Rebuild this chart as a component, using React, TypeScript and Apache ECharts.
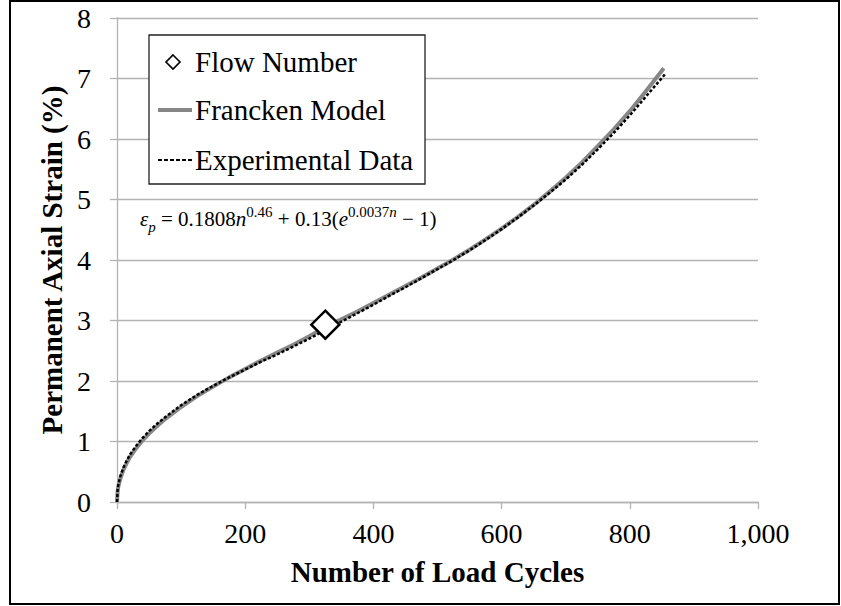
import React, { useEffect, useRef } from "react";
import * as echarts from "echarts";

// Load cycles (n) and permanent axial strain (%) for the fitted model curve
const modelCycles = [0, 1, 2, 5, 10, 15, 20, 30, 40, 50, 60, 75, 90, 100, 125, 150, 175, 200, 225, 250, 275, 300, 325, 350, 375, 400, 425, 450, 475, 500, 525, 550, 575, 600, 625, 650, 675, 700, 725, 750, 775, 800, 825, 853];
const modelStrain = [0, 0.18, 0.25, 0.38, 0.53, 0.64, 0.74, 0.89, 1.02, 1.13, 1.23, 1.37, 1.49, 1.57, 1.75, 1.91, 2.06, 2.2, 2.34, 2.47, 2.6, 2.74, 2.89, 3.02, 3.15, 3.29, 3.43, 3.57, 3.71, 3.86, 4.01, 4.17, 4.34, 4.52, 4.71, 4.91, 5.13, 5.36, 5.61, 5.88, 6.16, 6.46, 6.79, 7.17];

// Measured strain from the repeated load test
const expCycles = [0, 1, 2, 5, 10, 15, 20, 30, 40, 50, 60, 75, 90, 100, 125, 150, 175, 200, 225, 250, 275, 300, 325, 350, 375, 400, 425, 450, 475, 500, 525, 550, 575, 600, 625, 650, 675, 700, 725, 750, 775, 800, 825, 855];
const expStrain = [0, 0.2, 0.28, 0.42, 0.57, 0.68, 0.78, 0.93, 1.06, 1.17, 1.27, 1.4, 1.52, 1.6, 1.77, 1.92, 2.06, 2.19, 2.32, 2.44, 2.57, 2.7, 2.84, 2.98, 3.12, 3.26, 3.41, 3.55, 3.7, 3.85, 4.0, 4.16, 4.33, 4.51, 4.7, 4.9, 5.11, 5.33, 5.57, 5.83, 6.1, 6.39, 6.7, 7.07];

// Flow number point
const flowCycles = [325];
const flowStrain = [2.93];

const xTicks = [0, 200, 400, 600, 800, 1000];

const SERIF = "'Liberation Serif', 'Times New Roman', serif";

function pairs(xs: number[], ys: number[]) {
  return xs.map((x, i) => [x, ys[i]]);
}

export default function App() {
  const ref = useRef<HTMLDivElement>(null);

  useEffect(() => {
    if (!ref.current) return;
    const chart = echarts.init(ref.current, undefined, { renderer: "svg" });
    const gridColor = "#b3b3b3";

    chart.setOption({
      animation: false,
      backgroundColor: "#ffffff",
      grid: {
        left: 117,
        right: 83,
        top: 18,
        bottom: 104,
        containLabel: false,
        outerBoundsMode: "none",
      },
      xAxis: {
        type: "value",
        min: xTicks[0],
        max: xTicks[xTicks.length - 1],
        interval: 200,
        name: "Number of Load Cycles",
        nameLocation: "middle",
        nameGap: 55,
        nameTextStyle: { fontFamily: SERIF, fontSize: 29, fontWeight: "bold", color: "#000" },
        axisLine: { show: true, lineStyle: { color: gridColor, width: 1.3 } },
        axisTick: { show: true, inside: false, length: 7, lineStyle: { color: gridColor, width: 1.3 } },
        splitLine: { show: false },
        axisLabel: {
          margin: 17,
          fontFamily: SERIF,
          fontSize: 28,
          color: "#000",
          formatter: (v: number) => v.toLocaleString("en-US"),
        },
      },
      yAxis: {
        type: "value",
        min: 0,
        max: 8,
        interval: 1,
        name: "Permanent Axial Strain (%)",
        nameLocation: "middle",
        nameGap: 50,
        nameTextStyle: { fontFamily: SERIF, fontSize: 29, fontWeight: "bold", color: "#000" },
        axisLine: { show: true, lineStyle: { color: gridColor, width: 1.3 } },
        axisTick: { show: true, inside: false, length: 7, lineStyle: { color: gridColor, width: 1.3 } },
        splitLine: { show: true, lineStyle: { color: gridColor, width: 1.3 } },
        axisLabel: { margin: 26, fontFamily: SERIF, fontSize: 28, color: "#000" },
      },
      series: [
        {
          name: "Francken Model",
          type: "line",
          data: pairs(modelCycles, modelStrain),
          smooth: false,
          symbol: "none",
          lineStyle: { color: "#878787", width: 4, join: "round" },
          z: 2,
        },
        {
          name: "Experimental Data",
          type: "line",
          data: pairs(expCycles, expStrain),
          smooth: false,
          symbol: "none",
          lineStyle: { color: "#000", width: 2.5, type: [3, 2] },
          z: 3,
        },
        {
          name: "Flow Number",
          type: "scatter",
          data: pairs(flowCycles, flowStrain),
          symbol: "diamond",
          symbolSize: 28,
          itemStyle: { color: "#fff", borderColor: "#000", borderWidth: 2.5, opacity: 1 },
          z: 5,
        },
      ],
      graphic: [
        // outer frame
        {
          type: "rect",
          shape: { x: 10, y: 1, width: 829, height: 603 },
          style: { fill: "none", stroke: "#000", lineWidth: 2 },
          silent: true,
          z: 10,
        },
        // legend box
        {
          type: "rect",
          shape: { x: 149, y: 35, width: 276, height: 149 },
          style: { fill: "#fff", stroke: "#222", lineWidth: 1.3 },
          z: 20,
        },
        {
          type: "polygon",
          shape: { points: [[173, 55], [180, 62], [173, 69], [166, 62]] },
          style: { fill: "#fff", stroke: "#000", lineWidth: 1.6 },
          z: 21,
        },
        {
          type: "line",
          shape: { x1: 158, y1: 110, x2: 192, y2: 110 },
          style: { stroke: "#878787", lineWidth: 4 },
          z: 21,
        },
        {
          type: "line",
          shape: { x1: 158, y1: 160, x2: 193, y2: 160 },
          style: { stroke: "#000", lineWidth: 2, lineDash: [4, 2] },
          z: 21,
        },
        {
          type: "text",
          x: 195,
          y: 62,
          style: { text: "Flow Number", font: `29px ${SERIF}`, fill: "#000", verticalAlign: "middle" },
          z: 21,
        },
        {
          type: "text",
          x: 195,
          y: 110,
          style: { text: "Francken Model", font: `29px ${SERIF}`, fill: "#000", verticalAlign: "middle" },
          z: 21,
        },
        {
          type: "text",
          x: 195,
          y: 160,
          style: { text: "Experimental Data", font: `29px ${SERIF}`, fill: "#000", verticalAlign: "middle" },
          z: 21,
        },
        // model equation
        {
          type: "text",
          x: 140,
          y: 219,
          style: {
            text:
              "{it|ε}{sub|p}{n| = 0.1808}{it|n}{sup|0.46}{n| + 0.13(}{it|e}{sup|0.0037}{supit|n}{n| − 1)}",
            verticalAlign: "middle",
            fill: "#000",
            rich: {
              n: { fontFamily: SERIF, fontSize: 21, lineHeight: 30, fill: "#000" },
              it: { fontFamily: SERIF, fontSize: 21, fontStyle: "italic", lineHeight: 30, fill: "#000" },
              sup: { fontFamily: SERIF, fontSize: 15, lineHeight: 30, verticalAlign: "top", fill: "#000" },
              supit: { fontFamily: SERIF, fontSize: 15, fontStyle: "italic", lineHeight: 30, verticalAlign: "top", fill: "#000" },
              sub: { fontFamily: SERIF, fontSize: 15, fontStyle: "italic", lineHeight: 30, verticalAlign: "bottom", fill: "#000" },
            },
          },
          z: 21,
        },
      ],
    });

    return () => chart.dispose();
  }, []);

  return (
    <div
      ref={ref}
      style={{ position: "absolute", left: 0, top: 0, width: 841, height: 606, background: "#fff" }}
    />
  );
}
